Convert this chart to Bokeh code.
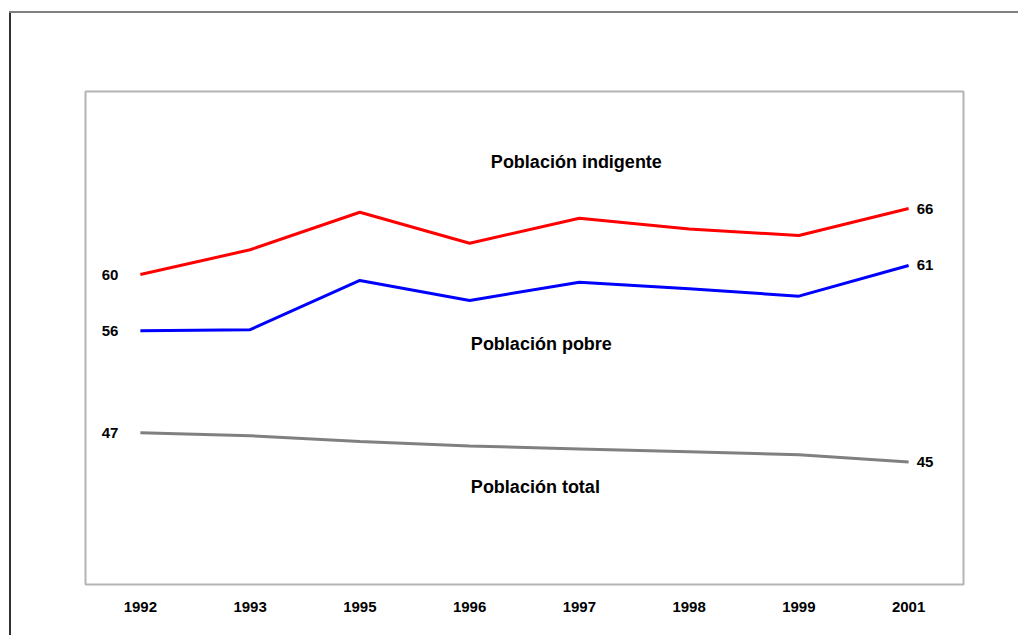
from bokeh.plotting import figure
from bokeh.models import Range1d, FactorRange
from bokeh.core.properties import value
from bokeh.embed import file_html
from bokeh.resources import INLINE

# ---- data ----
years = ["1992", "1993", "1995", "1996", "1997", "1998", "1999", "2001"]
indigente = [60, 62.25, 65.66, 62.85, 65.12, 64.15, 63.55, 66]
pobre = [56, 56.08, 59.85, 58.32, 59.72, 59.22, 58.65, 61]
total = [47, 46.8, 46.4, 46.1, 45.9, 45.7, 45.5, 45]
series_names = ["Población indigente", "Población pobre", "Población total"]

FONT = value("Liberation Sans")

p = figure(
    x_range=FactorRange(*years, range_padding=0),
    y_range=Range1d(31.82, 76.64),
    width=1018, height=635,
    output_backend="svg", toolbar_location=None,
    min_border_left=85, min_border_right=55, min_border_top=91, min_border_bottom=51,
    y_axis_location=None,
)
p.extra_y_ranges = {"pobre": Range1d(36.57, 74.32), "total": Range1d(36.61, 70.38)}

p.grid.visible = False
p.outline_line_color = "#b4b4b4"
p.outline_line_width = 2
p.background_fill_color = "white"
p.border_fill_alpha = 0
p.styles = {
    "background": "linear-gradient(#808080,#808080) 9px 11px / 100% 2px no-repeat, "
                  "linear-gradient(#303030,#303030) 9px 11px / 2px 100% no-repeat, white",
}

ax = p.xaxis[0]
ax.axis_line_color = None
ax.major_tick_line_color = None
ax.minor_tick_line_color = None
ax.major_tick_in = 0
ax.major_tick_out = 0
ax.major_label_standoff = 17
ax.major_label_text_font = "Liberation Sans"
ax.major_label_text_font_style = "bold"
ax.major_label_text_font_size = "15px"
ax.major_label_text_color = "black"

p.line(years, indigente, line_color="#ff0000", line_width=3)
p.line(years, pobre, line_color="#0000ff", line_width=3, y_range_name="pobre")
p.line(years, total, line_color="#808080", line_width=3, y_range_name="total")

def txt(x, y, s, rng, align, xoff, size):
    kw = {}
    if rng is not None:
        kw["y_range_name"] = rng
    p.text(x=[x], y=[y], text=[s], text_font=FONT, text_font_style="bold",
           text_font_size=size, text_color="black", text_align=align,
           text_baseline="middle", x_offset=xoff, **kw)

# end value labels
for vals, rng in [(indigente, None), (pobre, "pobre"), (total, "total")]:
    txt(years[0], vals[0], str(round(vals[0])), rng, "right", -22, "15px")
    txt(years[-1], vals[-1], str(round(vals[-1])), rng, "left", 8, "15px")

# series names
txt("1997", 70.27, series_names[0], None, "center", -3, "18px")
txt("1997", 54.95, series_names[1], "pobre", "center", -38, "18px")
txt("1997", 43.32, series_names[2], "total", "center", -44, "18px")

open("out.html", "w").write(file_html(p, INLINE))
